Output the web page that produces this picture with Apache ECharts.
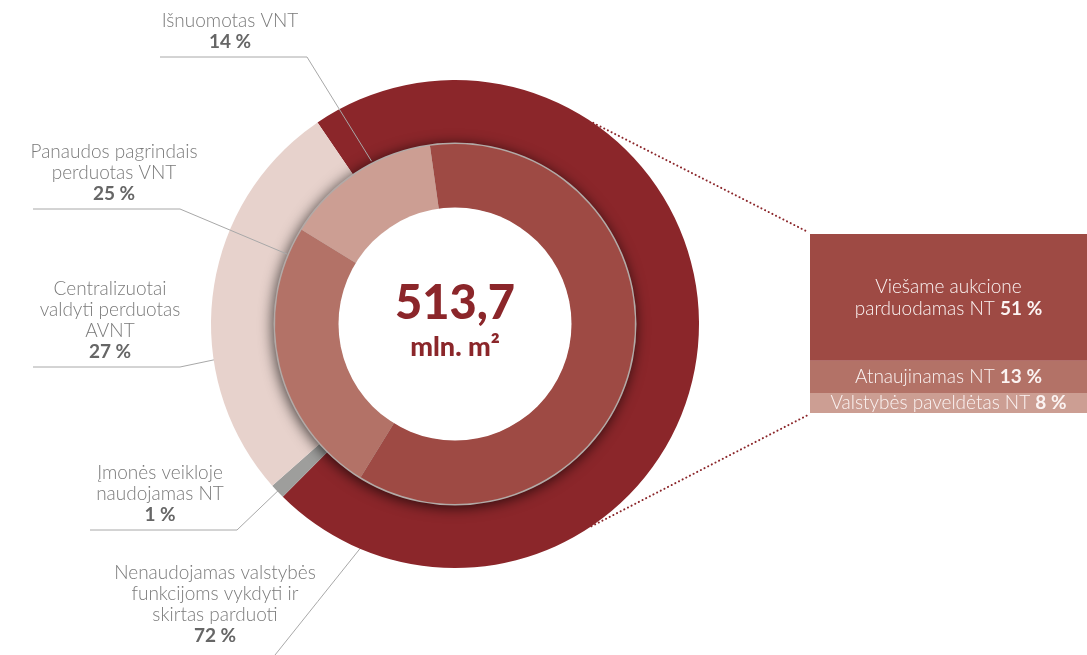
<!DOCTYPE html>
<html>
<head>
<meta charset="utf-8">
<script src="https://cdn.jsdelivr.net/npm/echarts@6/dist/echarts.min.js"></script>
<style>
  html, body { margin: 0; padding: 0; background: #ffffff; }
  #chart { width: 1087px; height: 655px; }
</style>
</head>
<body>
<div id="chart"></div>
<script>
// ---------------- DATA ----------------
const totalValue = '513,7';
const totalUnit = 'mln. m²';

// outer ring (clockwise from its start)
const outerNames = ['Nenaudojamas valstybės funkcijoms vykdyti ir skirtas parduoti', 'Įmonės veikloje naudojamas NT', 'Centralizuotai valdyti perduotas AVNT'];
const outerLabelLines = [['Nenaudojamas valstybės', 'funkcijoms vykdyti ir', 'skirtas parduoti'], ['Įmonės veikloje', 'naudojamas NT'], ['Centralizuotai', 'valdyti perduotas', 'AVNT']];
const outerValues = [72, 1, 27];

// inner ring (clockwise from its start)
const innerNames = ['Kitas', 'Panaudos pagrindais perduotas VNT', 'Išnuomotas VNT'];
const innerLabelLines = [null, ['Panaudos pagrindais', 'perduotas VNT'], ['Išnuomotas VNT']];
const innerValues = [61, 25, 14];

// breakdown box (bottom to top)
const boxNames = ['Valstybės paveldėtas NT', 'Atnaujinamas NT', 'Viešame aukcione\nparduodamas NT'];
const boxValues = [8, 13, 51];

// ---------------- STYLE / LAYOUT ----------------
const CX = 455, CY = 324;
const R_OUT = [178, 244];
const R_IN = [116, 180];
const outerColors = ['#8b262a', '#9e9e9c', '#e7d2cc'];
const innerColors = ['#9e4a44', '#b37267', '#cc9e93'];
const boxColors = ['#cc9e93', '#b37267', '#9e4a44'];
const OUTER_START = 124.3; // echarts startAngle (deg, ccw from 3 o'clock)
const INNER_START = 98;

// label placement: text centre x, bottom y, underline ends, anchor fraction in slice, anchor radius
const outerLabelPos = [
  { cx: 215, y: 646, lineL: null, lineR: null, endX: 275, endY: 655, t: 0.915, r: 243 },
  { cx: 160, y: 525, lineL: 90, lineR: 237, t: 0.5, r: 243 },
  { cx: 110, y: 362, lineL: 33, lineR: 180, t: 0.34, r: 243 }
];
const innerLabelPos = [
  null,
  { cx: 114, y: 204, lineL: 33, lineR: 180, t: 0.9, r: 182 },
  { cx: 230, y: 52, lineL: 160, lineR: 307, t: 0.62, r: 183 }
];

function anchorPoint(values, idx, startAngle, t, r) {
  const sum = values.reduce((a, b) => a + b, 0);
  let cum = 0;
  for (let i = 0; i < idx; i++) cum += values[i];
  const frac = (cum + values[idx] * t) / sum;
  const ang = (startAngle - frac * 360) * Math.PI / 180; // clockwise
  return [CX + r * Math.cos(ang), CY - r * Math.sin(ang)];
}

function makeLayout(values, startAngle, posArr) {
  return function (params) {
    const p = posArr[params.dataIndex];
    if (!p) return {};
    const a = anchorPoint(values, params.dataIndex, startAngle, p.t, p.r);
    let pts;
    if (p.lineL != null) {
      const ly = p.y + 5;
      pts = [a, [p.lineR, ly], [p.lineL, ly]];
    } else {
      pts = [a, [(a[0] + p.endX) / 2, (a[1] + p.endY) / 2], [p.endX, p.endY]];
    }
    return { x: p.cx, y: p.y, align: 'center', verticalAlign: 'bottom', labelLinePoints: pts };
  };
}

function labelFmt(linesArr, values) {
  return function (params) {
    const lines = linesArr[params.dataIndex];
    if (!lines) return '';
    return lines.map(l => '{n|' + l + '}').join('\n') + '\n{p|' + values[params.dataIndex] + ' %}';
  };
}

const FONT = 'Lato, "Noto Sans", sans-serif';
const labelRich = {
  n: { fontSize: 19, color: '#7a7a7a', lineHeight: 21, fontFamily: FONT, fontWeight: 300 },
  p: { fontSize: 19, color: '#666666', fontWeight: 'bold', lineHeight: 21, fontFamily: FONT }
};
const labelLineStyle = { show: true, smooth: false, lineStyle: { color: '#a8a8a8', width: 1 } };

const chart = echarts.init(document.getElementById('chart'), null, { renderer: 'canvas' });

// dotted connectors
const GRID = { left: 810, top: 234, width: 277, height: 179 };
function ringPt(thetaDeg) { // clockwise from top
  const t = thetaDeg * Math.PI / 180;
  return [CX + R_OUT[1] * Math.sin(t), CY - R_OUT[1] * Math.cos(t)];
}
const dotTop = ringPt(34.5), dotBot = ringPt(146);

const option = {
  animation: false,
  backgroundColor: '#ffffff',
  grid: { left: GRID.left, top: GRID.top, width: GRID.width, height: GRID.height, containLabel: false },
  xAxis: { type: 'category', data: [''], show: false },
  yAxis: { type: 'value', min: 0, max: boxValues.reduce((a, b) => a + b, 0), show: false },
  graphic: [
    { type: 'polyline', silent: true, z: 1, shape: { points: [dotTop, [GRID.left - 2, GRID.top - 2]] },
      style: { stroke: '#8b262a', lineWidth: 2, lineDash: [0.1, 4], lineCap: 'round', fill: null } },
    { type: 'polyline', silent: true, z: 1, shape: { points: [dotBot, [GRID.left - 2, GRID.top + GRID.height + 2]] },
      style: { stroke: '#8b262a', lineWidth: 2, lineDash: [0.1, 4], lineCap: 'round', fill: null } }
  ],
  series: [
    {
      type: 'pie', name: 'outer', center: [CX, CY], radius: R_OUT, startAngle: OUTER_START,
      clockwise: true, avoidLabelOverlap: false, silent: true, z: 2,
      data: outerNames.map((n, i) => ({ name: n, value: outerValues[i], itemStyle: { color: outerColors[i] } })),
      label: { show: true, position: 'outside', formatter: labelFmt(outerLabelLines, outerValues), rich: labelRich, textAlign: 'center' },
      labelLine: labelLineStyle,
      labelLayout: makeLayout(outerValues, OUTER_START, outerLabelPos)
    },
    {
      type: 'pie', name: 'shadow', center: [CX, CY], radius: [R_IN[0], R_IN[1] + 1.5], silent: true, z: 3,
      label: { show: false }, labelLine: { show: false },
      data: [{ value: 1, itemStyle: { color: '#b3aaa7', shadowBlur: 14, shadowColor: 'rgba(0,0,0,0.7)', shadowOffsetX: -1, shadowOffsetY: 2 } }]
    },
    {
      type: 'pie', name: 'inner', center: [CX, CY], radius: R_IN, startAngle: INNER_START,
      clockwise: true, avoidLabelOverlap: false, silent: true, z: 4,
      data: innerNames.map((n, i) => ({ name: n, value: innerValues[i], itemStyle: { color: innerColors[i] },
        label: { show: !!innerLabelLines[i] }, labelLine: { show: !!innerLabelLines[i] } })),
      label: { show: true, position: 'outside', formatter: labelFmt(innerLabelLines, innerValues), rich: labelRich, textAlign: 'center' },
      labelLine: labelLineStyle,
      labelLayout: makeLayout(innerValues, INNER_START, innerLabelPos)
    },
    {
      type: 'pie', name: 'centre', center: [CX, CY], radius: [0, R_IN[0] + 0.5], silent: true, z: 5,
      labelLine: { show: false },
      data: [{ value: 1, itemStyle: { color: '#ffffff' } }],
      label: {
        show: true, position: 'center',
        formatter: '{big|' + totalValue + '}\n{unit|' + totalUnit + '}',
        rich: {
          big: { fontSize: 47, fontWeight: 900, color: '#8b262a', fontFamily: FONT, lineHeight: 46 },
          unit: { fontSize: 27, fontWeight: 900, color: '#8b262a', fontFamily: FONT, lineHeight: 40 }
        }
      }
    }
  ].concat(boxNames.map((n, i) => ({
    type: 'bar', name: n, stack: 'box', barWidth: '100%', silent: true,
    data: [boxValues[i]],
    itemStyle: { color: boxColors[i] },
    label: {
      show: true, position: 'inside',
      formatter: function () {
        const parts = n.split('\n');
        const last = parts.pop();
        return parts.map(p => '{n|' + p + '}').concat(['{n|' + last + ' }{b|' + boxValues[i] + ' %}']).join('\n');
      },
      rich: {
        n: { fontSize: 19, color: '#fbf3f2', fontFamily: FONT, fontWeight: 300, lineHeight: 22 },
        b: { fontSize: 19, color: '#fbf3f2', fontWeight: 'bold', fontFamily: FONT, lineHeight: 22 }
      }
    }
  })))
};

chart.setOption(option);
</script>
</body>
</html>
